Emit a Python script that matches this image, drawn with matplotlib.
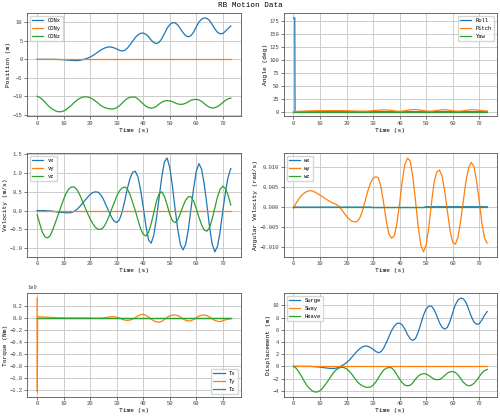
import numpy as np
import matplotlib
matplotlib.use("Agg")
import matplotlib.pyplot as plt

plt.rcParams['font.family'] = ['Liberation Mono', 'DejaVu Sans Mono']
plt.rcParams['font.size'] = 4.5

t = np.arange(0, 74)
surge = [0,0,0,0,0,0,0,-0.02,-0.05,-0.08,-0.12,-0.18,-0.25,-0.3,-0.33,-0.35,-0.3,-0.15,0.05,0.3,0.6,1.0,1.5,2.0,2.5,2.9,3.2,3.35,3.3,3.1,2.8,2.45,2.25,2.4,3.0,3.9,4.9,5.9,6.6,7.05,7.1,6.8,6.1,5.2,4.5,4.25,4.6,5.6,7.0,8.4,9.4,9.9,9.9,9.3,8.3,7.2,6.4,6.1,6.4,7.4,8.8,10.1,10.9,11.2,11.1,10.5,9.4,8.2,7.3,6.9,7.0,7.6,8.4,9.0]
heave = [0,-0.3,-0.9,-1.6,-2.4,-3.1,-3.6,-4.0,-4.2,-4.2,-4.0,-3.6,-3.0,-2.4,-1.7,-1.1,-0.6,-0.3,-0.15,-0.2,-0.4,-0.8,-1.3,-1.9,-2.5,-2.9,-3.2,-3.4,-3.45,-3.4,-3.1,-2.6,-1.9,-1.2,-0.6,-0.3,-0.2,-0.25,-0.7,-1.4,-2.1,-2.7,-3.1,-3.2,-3.1,-2.7,-2.1,-1.6,-1.3,-1.2,-1.25,-1.5,-1.8,-2.1,-2.2,-2.15,-1.9,-1.5,-1.1,-0.9,-0.85,-1.0,-1.4,-2.0,-2.6,-3.0,-3.2,-3.1,-2.8,-2.3,-1.7,-1.1,-0.7,-0.5]
sway = [0.0]*74
con_z_offset = -10.0
vx = [0,0,0,0,-0.01,-0.01,-0.02,-0.03,-0.04,-0.05,-0.05,-0.06,-0.06,-0.05,-0.02,0.03,0.1,0.18,0.27,0.35,0.43,0.48,0.5,0.49,0.42,0.3,0.14,-0.02,-0.17,-0.28,-0.32,-0.25,-0.05,0.25,0.58,0.85,1.02,1.05,0.9,0.55,0.1,-0.4,-0.78,-0.87,-0.65,-0.2,0.35,0.9,1.3,1.4,1.15,0.65,0.05,-0.5,-0.9,-1.05,-0.9,-0.5,0.05,0.6,1.05,1.25,1.1,0.7,0.15,-0.45,-0.9,-1.1,-0.95,-0.55,0.0,0.5,0.9,1.12]
vy = [0.0]*74
vz = [-0.1,-0.35,-0.58,-0.7,-0.73,-0.66,-0.5,-0.3,-0.1,0.1,0.3,0.47,0.58,0.63,0.63,0.56,0.43,0.27,0.1,-0.07,-0.22,-0.35,-0.45,-0.5,-0.5,-0.45,-0.33,-0.17,0.02,0.2,0.38,0.52,0.6,0.63,0.58,0.43,0.22,0.0,-0.25,-0.48,-0.63,-0.68,-0.58,-0.35,-0.05,0.25,0.45,0.5,0.38,0.15,-0.1,-0.27,-0.32,-0.25,-0.08,0.12,0.28,0.37,0.37,0.25,0.05,-0.18,-0.38,-0.52,-0.55,-0.45,-0.22,0.08,0.37,0.57,0.65,0.58,0.4,0.15]
wy = [-0.0003,0.001,0.002,0.0029,0.0035,0.0039,0.0041,0.0041,0.0038,0.0034,0.003,0.0026,0.0021,0.0017,0.0013,0.001,0.0007,0.0003,-0.0005,-0.0014,-0.0023,-0.003,-0.0035,-0.0037,-0.0036,-0.0027,-0.001,0.0015,0.004,0.006,0.0072,0.0076,0.0074,0.005,0.001,-0.0035,-0.0068,-0.0078,-0.0072,-0.004,0.001,0.0065,0.0108,0.0123,0.0115,0.0075,0.0015,-0.0048,-0.0095,-0.0112,-0.0095,-0.005,0.001,0.0062,0.0088,0.0093,0.0078,0.004,-0.001,-0.0058,-0.0088,-0.0093,-0.0075,-0.0035,0.0015,0.0065,0.0098,0.0112,0.0102,0.0065,0.0015,-0.004,-0.0078,-0.009]
wx = [0.0]*30 + [-0.0001]*20 + [0.0001]*24
wz = [0.0]*74
pitch = [0.2,0.5,0.8,1.0,1.2,1.4,1.6,1.7,1.8,1.9,2.0,2.0,2.1,2.1,2.1,2.2,2.2,2.2,2.1,2.0,1.9,1.8,1.6,1.5,1.3,1.2,1.1,1.1,1.3,1.7,2.1,2.6,3.0,3.3,3.5,3.4,3.0,2.3,1.6,1.1,0.9,1.2,1.9,2.8,3.6,4.1,4.2,3.8,3.0,2.1,1.4,1.1,1.2,1.7,2.4,3.2,3.7,3.8,3.4,2.7,1.9,1.3,1.1,1.3,1.9,2.7,3.4,3.8,3.9,3.5,2.8,2.0,1.6,1.5]
yaw = [0.0]*74
t_roll = [0, 0.5, 0.6] + list(range(1, 74))
roll = [180, 180, 0] + [0.0]*73
t_tq = [0, 0.1, 0.2] + list(range(1, 74))
ty = [0.33, -1.23, 0.02] + [0.02,0.018,0.015,0.012,0.01,0.008,0.006,0.004,0.003,0.002,0.001,0,0,0,0,0,0,0,0,0,-0.002,-0.004,-0.005,-0.003,0,0.008,0.015,0.02,0.022,0.015,0,-0.02,-0.035,-0.04,-0.035,-0.02,0.005,0.035,0.055,0.06,0.045,0.015,-0.02,-0.05,-0.065,-0.07,-0.055,-0.025,0.01,0.035,0.048,0.05,0.04,0.015,-0.015,-0.04,-0.05,-0.045,-0.025,0.005,0.03,0.048,0.05,0.04,0.015,-0.015,-0.04,-0.055,-0.06,-0.045,-0.03,-0.02,-0.01]
tx = [0.0]*76
tz = [0.0]*76

C = ['#1f77b4', '#ff7f0e', '#2ca02c']
fig, axs = plt.subplots(3, 2, figsize=(5, 4.16), dpi=100)
fig.suptitle('RB Motion Data', fontsize=5.5, y=0.995)

def style(ax, ylabel):
    ax.grid(True, color='#cccccc', linewidth=0.7)
    ax.set_axisbelow(True)
    for s in ax.spines.values():
        s.set_color('#555555'); s.set_linewidth(0.6)
    ax.tick_params(width=0.5, length=2, labelsize=4, colors='#444444', pad=1.5)
    ax.set_xlabel('Time (s)', fontsize=4.5, labelpad=1)
    ax.set_ylabel(ylabel, fontsize=4.5, labelpad=1)
    ax.set_xticks(range(0, 80, 10))

LW = 0.9
ax = axs[0, 0]
ax.plot(t, surge, color=C[0], lw=LW, label='CONx')
ax.plot(t, sway, color=C[1], lw=LW, label='CONy')
ax.plot(t, np.array(heave) + con_z_offset, color=C[2], lw=LW, label='CONz')
style(ax, 'Position (m)'); ax.set_yticks([-15, -10, -5, 0, 5, 10])
ax.legend(loc='upper left', fontsize=4)

ax = axs[0, 1]
ax.plot(t_roll, roll, color=C[0], lw=LW, label='Roll')
ax.plot(t, pitch, color=C[1], lw=LW, label='Pitch')
ax.plot(t, yaw, color=C[2], lw=LW, label='Yaw')
style(ax, 'Angle (deg)'); ax.set_yticks(range(0, 176, 25))
ax.legend(loc='upper right', fontsize=4)

ax = axs[1, 0]
ax.plot(t, vx, color=C[0], lw=LW, label='vx')
ax.plot(t, vy, color=C[1], lw=LW, label='vy')
ax.plot(t, vz, color=C[2], lw=LW, label='vz')
style(ax, 'Velocity (m/s)')
ax.legend(loc='upper left', fontsize=4)

ax = axs[1, 1]
ax.plot(t, wx, color=C[0], lw=LW, label='wx')
ax.plot(t, wy, color=C[1], lw=LW, label='wy')
ax.plot(t, wz, color=C[2], lw=LW, label='wz')
style(ax, 'Angular Velocity (rad/s)')
ax.legend(loc='upper left', fontsize=4)

ax = axs[2, 0]
ax.plot(t_tq, np.array(tx) * 1e9, color=C[0], lw=LW, label='Tx')
ax.plot(t_tq, np.array(ty) * 1e9, color=C[1], lw=LW, label='Ty')
ax.plot(t_tq, np.array(tz) * 1e9, color=C[2], lw=LW, label='Tz')
style(ax, 'Torque (Nm)')
ax.set_yticks(np.arange(-1.2, 0.21, 0.2) * 1e9)
ax.yaxis.get_offset_text().set_fontsize(4)
ax.legend(loc='lower right', fontsize=4)

ax = axs[2, 1]
ax.plot(t, surge, color=C[0], lw=LW, label='Surge')
ax.plot(t, sway, color=C[1], lw=LW, label='Sway')
ax.plot(t, heave, color=C[2], lw=LW, label='Heave')
style(ax, 'Displacement (m)')
ax.set_yticks(range(-4, 11, 2))
ax.legend(loc='upper left', fontsize=4)

fig.tight_layout(pad=0.5, h_pad=2.0, w_pad=2.0)
fig.savefig('out.png')
